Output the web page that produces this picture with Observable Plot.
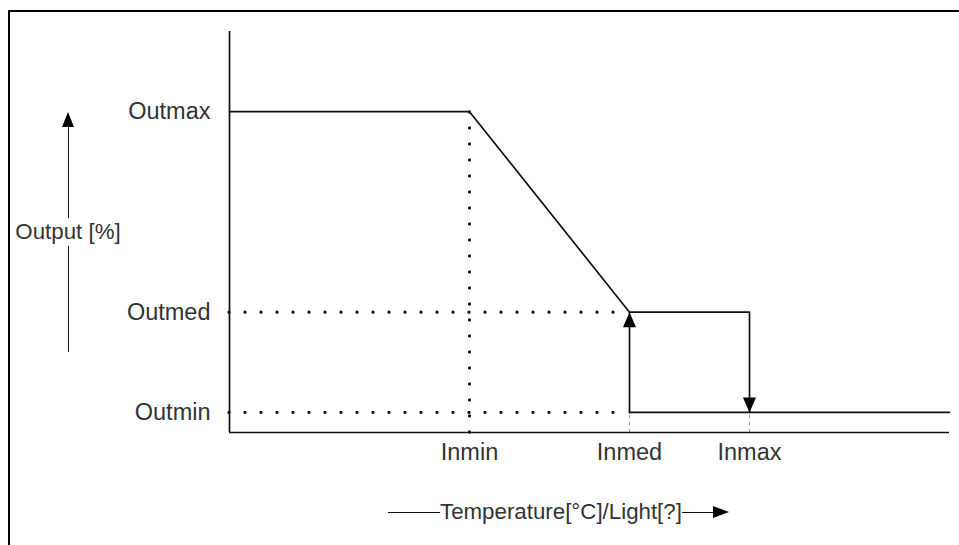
<!DOCTYPE html>
<html>
<head>
<meta charset="utf-8">
<script src="https://cdn.jsdelivr.net/npm/d3@7"></script>
<script src="https://cdn.jsdelivr.net/npm/@observablehq/plot@0.6"></script>
<style>
  html, body { margin: 0; padding: 0; background: #fff; }
  #wrap { position: relative; width: 959px; height: 545px; overflow: hidden; font-family: "Liberation Sans", Arial, sans-serif; color: #333; }
  #border { position: absolute; left: 8px; top: 10px; width: 1000px; height: 600px; border-top: 2px solid #000; border-left: 2px solid #000; }
  .lbl { position: absolute; white-space: nowrap; }
  .vline { position: absolute; width: 0; border-left: 1.7px solid #111; }
  .hline { display: inline-block; height: 0; border-top: 1.7px solid #111; }
</style>
</head>
<body>
<div id="wrap">
  <div id="border"></div>
  <div id="chart"></div>
</div>
<script>
// ---- data ----
const inputLabels = ["Inmin", "Inmed", "Inmax"];
const inputValues = [12, 20, 26];
const outputLabels = ["Outmin", "Outmed", "Outmax"];
const outputValues = [5, 30, 80];
const xMax = 36;
const yMax = 100;
const xTitle = "Temperature[°C]/Light[?]";
const yTitle = "Output [%]";

const [inMin, inMed, inMax] = inputValues;
const [outMin, outMed, outMax] = outputValues;

// descending branch (ends at the arrow tip at Inmax / Outmin)
const fallX = [0, inMin, inMed, inMax, inMax];
const fallY = [outMax, outMax, outMed, outMed, outMin];
// rising branch (from Outmin at Inmed up to Outmed) and low plateau
const riseX = [inMed, inMed];
const riseY = [outMin, outMed];
const lowX = [inMed, xMax];
const lowY = [outMin, outMin];

const fall = fallX.map((x, i) => ({x, y: fallY[i]}));
const rise = riseX.map((x, i) => ({x, y: riseY[i]}));
const low = lowX.map((x, i) => ({x, y: lowY[i]}));

const arrowHead = {
  draw(ctx) {
    const w = 6.5, h = 15;
    ctx.moveTo(0, 0);
    ctx.lineTo(w, h);
    ctx.lineTo(-w, h);
    ctx.closePath();
  }
};

const lw = 1.7;
const dotted = {stroke: "#111", strokeWidth: 3.3, strokeDasharray: "0 16", strokeLinecap: "round"};
const chart = Plot.plot({
  width: 959,
  height: 545,
  marginLeft: 229,
  marginRight: 10,
  marginTop: 31,
  marginBottom: 113,
  style: {fontFamily: "'Liberation Sans', Arial, sans-serif", fontSize: "23.5px", color: "#333", background: "transparent", overflow: "visible"},
  x: {domain: [0, xMax], axis: null},
  y: {domain: [0, yMax], axis: null},
  marks: [
    // dotted guides
    Plot.ruleY([outMed, outMin], {x1: 0, x2: inMed, ...dotted}),
    Plot.ruleX([inMin], {y1: 0, y2: outMax, ...dotted}),
    Plot.ruleX([inMed, inMax], {y1: 0, y2: outMin, stroke: "#999", strokeWidth: 1, strokeDasharray: "3 4"}),
    // axes lines
    Plot.ruleX([0], {y1: 0, y2: yMax, stroke: "#111", strokeWidth: lw}),
    Plot.ruleY([0], {stroke: "#111", strokeWidth: lw}),
    // response curve
    Plot.line(fall, {x: "x", y: "y", stroke: "#111", strokeWidth: lw, curve: "linear"}),
    Plot.line(rise, {x: "x", y: "y", stroke: "#111", strokeWidth: lw}),
    Plot.line(low, {x: "x", y: "y", stroke: "#111", strokeWidth: lw}),
    Plot.dot([{x: inMed, y: outMed, r: 0}, {x: inMax, y: outMin, r: 180}], {x: "x", y: "y", rotate: "r", symbol: arrowHead, fill: "#000", stroke: "none"}),
    // tick labels
    Plot.axisY({ticks: outputValues, tickFormat: (d) => outputLabels[outputValues.indexOf(d)], tickSize: 0, tickPadding: 19, fill: "#333", fontSize: 23.5, label: null}),
    Plot.axisX({ticks: inputValues, tickFormat: (d) => inputLabels[inputValues.indexOf(d)], tickSize: 0, tickPadding: 11, fill: "#333", fontSize: 23.5, label: null})
  ]
});
chart.style.position = "absolute";
chart.style.left = "0px";
chart.style.top = "0px";
document.getElementById("chart").appendChild(chart);

// axis titles with arrows (annotation overlay)
const wrap = document.getElementById("wrap");
// y title
const yt = document.createElement("div");
yt.className = "lbl";
yt.textContent = yTitle;
yt.style.cssText += "left:68px;top:232px;transform:translate(-50%,-50%);font-size:22.3px;background:#fff;";
const yl1 = document.createElement("div");
yl1.className = "vline";
yl1.style.cssText += "left:68px;top:124px;height:94px;";
const yl2 = document.createElement("div");
yl2.className = "vline";
yl2.style.cssText += "left:68px;top:246px;height:106px;";
const yh = document.createElement("div");
yh.style.cssText = "position:absolute;left:62px;top:112px;width:0;height:0;border-left:6.5px solid transparent;border-right:6.5px solid transparent;border-bottom:15px solid #000;";
wrap.append(yl1, yl2, yh, yt);

// x title
const xt = document.createElement("div");
xt.style.cssText = "position:absolute;left:388px;top:512px;transform:translateY(-50%);display:flex;align-items:center;font-size:22.3px;white-space:nowrap;";
const l1 = document.createElement("span"); l1.className = "hline"; l1.style.width = "52px";
const tx = document.createElement("span"); tx.textContent = xTitle;
const l2 = document.createElement("span"); l2.className = "hline"; l2.style.width = "31px";
const ah = document.createElement("span");
ah.style.cssText = "display:inline-block;width:0;height:0;border-top:6.5px solid transparent;border-bottom:6.5px solid transparent;border-left:16px solid #000;";
xt.append(l1, tx, l2, ah);
wrap.append(xt);
</script>
</body>
</html>
